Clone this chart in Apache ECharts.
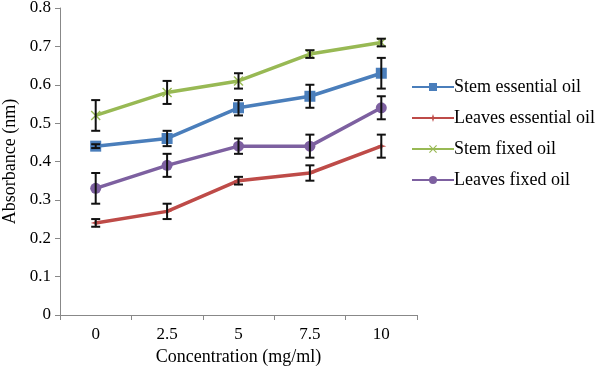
<!DOCTYPE html>
<html lang="en">
<head>
	<meta charset="UTF-8">
	<title>Absorbance chart</title>
	<style>
		body { margin: 0; background: #fff; }
	</style>
</head>
<body>
	<div id="main" style="width: 600px;height:372px;"></div>
<script type="text/javascript" src="https://cdn.jsdelivr.net/npm/echarts@6/dist/echarts.min.js"></script>
<script type="text/javascript">
        // 数据
        var categories = ['0', '2.5', '5', '7.5', '10'];
        var yTicks = [0, 0.1, 0.2, 0.3, 0.4, 0.5, 0.6, 0.7, 0.8];

        var stemEssential = [0.44, 0.46, 0.54, 0.57, 0.63];
        var stemEssentialErr = [0.005, 0.02, 0.02, 0.03, 0.04];
        var leavesEssential = [0.24, 0.27, 0.35, 0.37, 0.44];
        var leavesEssentialErr = [0.01, 0.02, 0.01, 0.02, 0.03];
        var stemFixed = [0.52, 0.58, 0.61, 0.68, 0.71];
        var stemFixedErr = [0.04, 0.03, 0.02, 0.01, 0.01];
        var leavesFixed = [0.33, 0.39, 0.44, 0.44, 0.54];
        var leavesFixedErr = [0.04, 0.03, 0.02, 0.03, 0.03];

        var font = '"Liberation Serif", "Times New Roman", serif';
        var xMark = 'path://M0,1L1,0L5,4L9,0L10,1L6,5L10,9L9,10L5,6L1,10L0,9L4,5Z';
        var starMark = 'path://M5,0L6.2,3.8L10,5L6.2,6.2L5,10L3.8,6.2L0,5L3.8,3.8Z';

        // 折线
        function lineSeries(name, data, color, symbol, size){
            return {
                name: name,
                type: 'line',
                data: data,
                symbol: symbol,
                symbolSize: size,
                showSymbol: true,
                lineStyle: {color: color, width: 3.5},
                itemStyle: {color: color},
                emphasis: {disabled: true},
                z: 3
            };
        }

        // 误差线
        function errorSeries(values, errs){
            var data = [];
            for (var i = 0; i < values.length; i++) {
                data.push([i, values[i] - errs[i], values[i] + errs[i]]);
            }
            return {
                type: 'custom',
                data: data,
                encode: {x: 0, y: [1, 2]},
                z: 5,
                silent: true,
                renderItem: function(params, api){
                    var x = api.value(0);
                    var lo = api.coord([x, api.value(1)]);
                    var hi = api.coord([x, api.value(2)]);
                    var w = 4.5;
                    var style = {stroke: '#111', lineWidth: 2};
                    return {
                        type: 'group',
                        children: [
                            {type: 'line', shape: {x1: hi[0], y1: hi[1], x2: lo[0], y2: lo[1]}, style: style},
                            {type: 'line', shape: {x1: hi[0] - w, y1: hi[1], x2: hi[0] + w, y2: hi[1]}, style: style},
                            {type: 'line', shape: {x1: lo[0] - w, y1: lo[1], x2: lo[0] + w, y2: lo[1]}, style: style}
                        ]
                    };
                }
            };
        }

        var myChart = echarts.init(document.getElementById('main'));
        var option = {
            animation: false,
            backgroundColor: '#fff',
            textStyle: {fontFamily: font},
            grid: {left: 60, right: 183, top: 8, bottom: 57, containLabel: false, outerBoundsMode: 'none'},
            legend: {
                orient: 'vertical',
                left: 406,
                top: 73,
                itemWidth: 42,
                itemHeight: 10,
                itemGap: 13,
                textStyle: {fontFamily: font, fontSize: 18, color: '#000', padding: [0, 0, 0, -5]},
                data: ['Stem essential oil', 'Leaves essential oil', 'Stem fixed oil', 'Leaves fixed oil']
            },
            xAxis: {
                type: 'category',
                data: categories,
                boundaryGap: true,
                name: 'Concentration (mg/ml)',
                nameLocation: 'middle',
                nameGap: 32,
                nameTextStyle: {fontFamily: font, fontSize: 18, color: '#000'},
                axisLine: {lineStyle: {color: '#888', width: 1}},
                axisTick: {show: true, length: 5, inside: false, lineStyle: {color: '#888'}},
                axisLabel: {fontFamily: font, fontSize: 17, color: '#000', margin: 11}
            },
            yAxis: {
                type: 'value',
                min: 0,
                max: 0.8,
                interval: 0.1,
                name: 'Absorbance (nm)',
                nameLocation: 'middle',
                nameGap: 30,
                nameTextStyle: {fontFamily: font, fontSize: 18, color: '#000'},
                splitLine: {show: false},
                axisLine: {show: true, lineStyle: {color: '#888', width: 1}},
                axisTick: {show: true, length: 5, lineStyle: {color: '#888'}},
                axisLabel: {
                    fontFamily: font, fontSize: 17, color: '#000', margin: 9,
                    formatter: function(v){
                        for (var i = 0; i < yTicks.length; i++) {
                            if (Math.abs(yTicks[i] - v) < 1e-6) return String(yTicks[i]);
                        }
                        return '';
                    }
                }
            },
            series: [
                lineSeries('Stem essential oil', stemEssential, '#4a7ebb', 'rect', 11),
                lineSeries('Leaves essential oil', leavesEssential, '#be4b48', starMark, 10),
                lineSeries('Stem fixed oil', stemFixed, '#98b954', xMark, 10),
                lineSeries('Leaves fixed oil', leavesFixed, '#7d60a0', 'circle', 11),
                errorSeries(stemEssential, stemEssentialErr),
                errorSeries(leavesEssential, leavesEssentialErr),
                errorSeries(stemFixed, stemFixedErr),
                errorSeries(leavesFixed, leavesFixedErr)
            ]
        };
        myChart.setOption(option, true);
</script>
</body>
</html>
